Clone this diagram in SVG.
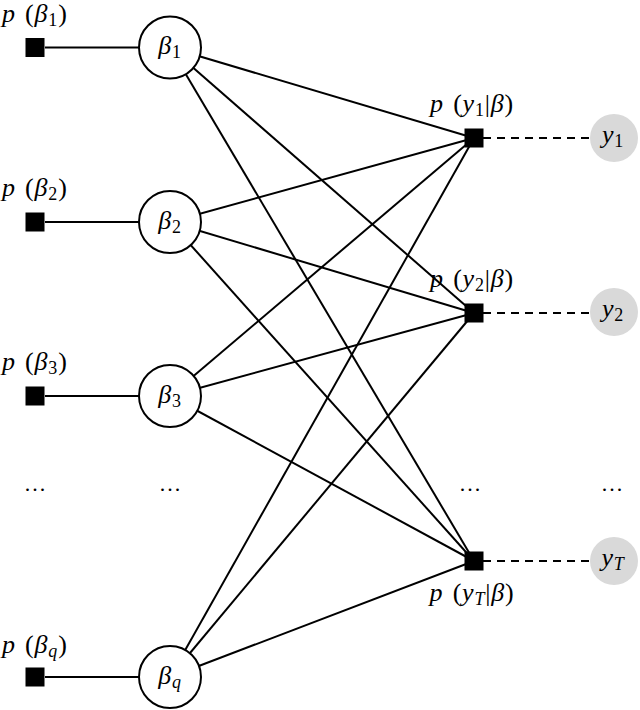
<svg xmlns="http://www.w3.org/2000/svg" width="640" height="710" viewBox="0 0 640 710">
<style>
text{font-family:"Liberation Serif","DejaVu Serif",serif;font-size:26px;fill:#000;letter-spacing:0.8px;word-spacing:2px}
.i{font-style:italic}
.s{font-size:18px}
.d{font-size:22px;letter-spacing:2px}
.edge{stroke:#000;stroke-width:2;fill:none}
.dash{stroke:#000;stroke-width:2;stroke-dasharray:8 6;fill:none}
.var{fill:#fff;stroke:#000;stroke-width:2}
.obs{fill:#d9d9d9;stroke:none}
.fac{fill:#000}
</style>
<rect width="640" height="710" fill="#fff"/>
<g id="connectors">
<line class="edge" x1="45" y1="47.5" x2="170" y2="47.5"/>
<line class="edge" x1="45" y1="222" x2="170" y2="222"/>
<line class="edge" x1="45" y1="396" x2="170" y2="396"/>
<line class="edge" x1="45" y1="677" x2="170" y2="677"/>
<line class="edge" x1="170" y1="47.5" x2="474" y2="138"/>
<line class="edge" x1="170" y1="47.5" x2="474" y2="313"/>
<line class="edge" x1="170" y1="47.5" x2="474" y2="561"/>
<line class="edge" x1="170" y1="222" x2="474" y2="138"/>
<line class="edge" x1="170" y1="222" x2="474" y2="313"/>
<line class="edge" x1="170" y1="222" x2="474" y2="561"/>
<line class="edge" x1="170" y1="396" x2="474" y2="138"/>
<line class="edge" x1="170" y1="396" x2="474" y2="313"/>
<line class="edge" x1="170" y1="396" x2="474" y2="561"/>
<line class="edge" x1="170" y1="677" x2="474" y2="138"/>
<line class="edge" x1="170" y1="677" x2="474" y2="313"/>
<line class="edge" x1="170" y1="677" x2="474" y2="561"/>
<line class="dash" x1="483" y1="138" x2="590" y2="138"/>
<line class="dash" x1="483" y1="313" x2="590" y2="313"/>
<line class="dash" x1="483" y1="561" x2="590" y2="561"/>
</g>
<g id="prior1"><rect class="fac" x="25.5" y="38" width="19" height="19"/><text x="2" y="22"><tspan class="i">p</tspan> (<tspan class="i">β</tspan><tspan class="s" dy="4">1</tspan><tspan dy="-4">)</tspan></text></g>
<g id="prior2"><rect class="fac" x="25.5" y="212.5" width="19" height="19"/><text x="2" y="196"><tspan class="i">p</tspan> (<tspan class="i">β</tspan><tspan class="s" dy="4">2</tspan><tspan dy="-4">)</tspan></text></g>
<g id="prior3"><rect class="fac" x="25.5" y="386.5" width="19" height="19"/><text x="2" y="370"><tspan class="i">p</tspan> (<tspan class="i">β</tspan><tspan class="s" dy="4">3</tspan><tspan dy="-4">)</tspan></text></g>
<g id="priorq"><rect class="fac" x="25.5" y="667.5" width="19" height="19"/><text x="2" y="653"><tspan class="i">p</tspan> (<tspan class="i">β</tspan><tspan class="s i" dy="4">q</tspan><tspan dy="-4">)</tspan></text></g>
<g id="beta1"><circle class="var" cx="170" cy="47.5" r="31"/><text x="170" y="54" text-anchor="middle"><tspan class="i">β</tspan><tspan class="s" dy="4">1</tspan></text></g>
<g id="beta2"><circle class="var" cx="170" cy="222" r="31"/><text x="170" y="229" text-anchor="middle"><tspan class="i">β</tspan><tspan class="s" dy="4">2</tspan></text></g>
<g id="beta3"><circle class="var" cx="170" cy="396" r="31"/><text x="170" y="403" text-anchor="middle"><tspan class="i">β</tspan><tspan class="s" dy="4">3</tspan></text></g>
<g id="betaq"><circle class="var" cx="170" cy="677" r="31"/><text x="170" y="684" text-anchor="middle"><tspan class="i">β</tspan><tspan class="s i" dy="4">q</tspan></text></g>
<g id="lik1"><rect class="fac" x="464.5" y="128.5" width="19" height="19"/><text x="472" y="112" text-anchor="middle"><tspan class="i">p</tspan> (<tspan class="i">y</tspan><tspan class="s" dy="4">1</tspan><tspan dy="-4">|</tspan><tspan class="i">β</tspan>)</text></g>
<g id="lik2"><rect class="fac" x="464.5" y="303.5" width="19" height="19"/><text x="472" y="287" text-anchor="middle"><tspan class="i">p</tspan> (<tspan class="i">y</tspan><tspan class="s" dy="4">2</tspan><tspan dy="-4">|</tspan><tspan class="i">β</tspan>)</text></g>
<g id="likT"><rect class="fac" x="464.5" y="551.5" width="19" height="19"/><text x="472" y="601" text-anchor="middle"><tspan class="i">p</tspan> (<tspan class="i">y</tspan><tspan class="s i" dy="4">T</tspan><tspan dy="-4">|</tspan><tspan class="i">β</tspan>)</text></g>
<g id="y1"><circle class="obs" cx="614" cy="138" r="24"/><text x="613" y="143" text-anchor="middle"><tspan class="i">y</tspan><tspan class="s" dy="4">1</tspan></text></g>
<g id="y2"><circle class="obs" cx="614" cy="312" r="24"/><text x="613" y="317" text-anchor="middle"><tspan class="i">y</tspan><tspan class="s" dy="4">2</tspan></text></g>
<g id="yT"><circle class="obs" cx="614" cy="561" r="24"/><text x="613" y="566" text-anchor="middle"><tspan class="i">y</tspan><tspan class="s i" dy="4">T</tspan></text></g>
<g id="dots">
<text class="d" x="36" y="491" text-anchor="middle">...</text>
<text class="d" x="171" y="491" text-anchor="middle">...</text>
<text class="d" x="471" y="491" text-anchor="middle">...</text>
<text class="d" x="613" y="491" text-anchor="middle">...</text>
</g>
</svg>
